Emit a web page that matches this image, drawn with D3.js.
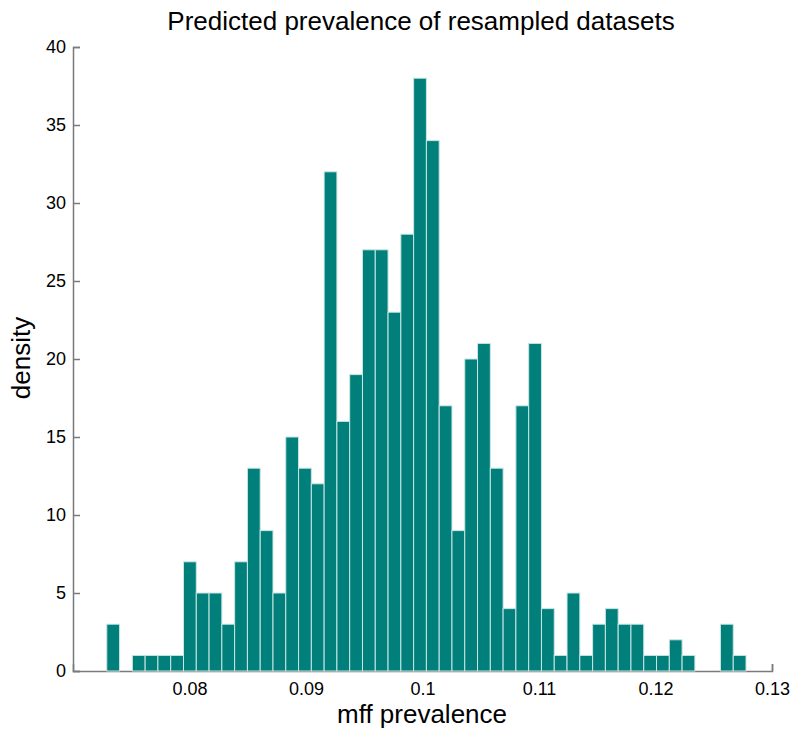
<!DOCTYPE html>
<html>
<head>
<meta charset="utf-8">
<script src="https://cdn.jsdelivr.net/npm/d3@7"></script>
<style>
  body { margin: 0; background: #fff; }
  svg text { font-family: "Liberation Sans", Arial, sans-serif; fill: #000; }
</style>
</head>
<body>
<svg id="chart"></svg>
<script>
// histogram: 50 bins between min and max of the resampled prevalence
const binRange = [0.0729, 0.12777];
const counts = [3, 0, 1, 1, 1, 1, 7, 5, 5, 3,
                7, 13, 9, 5, 15, 13, 12, 32, 16, 19,
                27, 27, 23, 28, 38, 34, 17, 9, 20, 21,
                13, 4, 17, 21, 4, 1, 5, 1, 3, 4,
                3, 3, 1, 1, 2, 1, 0, 0, 3, 1];
const xTicks = [0.08, 0.09, 0.1, 0.11, 0.12, 0.13];
const yTicks = [0, 5, 10, 15, 20, 25, 30, 35, 40];

const width = 793, height = 731;
const margin = { top: 47, right: 21, bottom: 60, left: 73 };

const svg = d3.select("#chart")
    .attr("width", width)
    .attr("height", height);

const x = d3.scaleLinear()
    .domain([0.07, 0.13])
    .range([margin.left, width - margin.right]);
const y = d3.scaleLinear()
    .domain([0, 40])
    .range([height - margin.bottom, margin.top]);

const binW = (binRange[1] - binRange[0]) / counts.length;
const bins = counts.map((c, i) => ({
    x0: binRange[0] + i * binW,
    x1: binRange[0] + (i + 1) * binW,
    count: c
}));

// axes (ticks pointing inward, MATLAB style)
const xAxis = svg.append("g")
    .attr("transform", `translate(0, ${y(0)})`)
    .call(d3.axisBottom(x).tickValues(xTicks).tickSize(-7).tickPadding(11)
        .tickFormat(d => d3.format("")(+d.toFixed(2))));
const yAxis = svg.append("g")
    .attr("transform", `translate(${x(0.07)}, 0)`)
    .call(d3.axisLeft(y).tickValues(yTicks).tickSize(-7).tickPadding(7));

[xAxis, yAxis].forEach(g => {
    g.select(".domain").attr("stroke", "#7a7a7a").attr("stroke-width", 1.5);
    g.selectAll(".tick line").attr("stroke", "#7a7a7a").attr("stroke-width", 1.5);
    g.selectAll("text").style("font-size", "18px").attr("fill", "#000");
});

// bars on top of the axis line
svg.append("g")
    .selectAll("rect")
    .data(bins.filter(d => d.count > 0))
    .join("rect")
    .attr("x", d => x(d.x0))
    .attr("width", d => x(d.x1) - x(d.x0))
    .attr("y", d => y(d.count))
    .attr("height", d => y(0) - y(d.count))
    .attr("fill", "#007f7b")
    .attr("stroke", "#c9e6e4")
    .attr("stroke-width", 1);

svg.append("text")
    .attr("x", 421)
    .attr("y", 30)
    .attr("text-anchor", "middle")
    .style("font-size", "26px")
    .text("Predicted prevalence of resampled datasets");

svg.append("text")
    .attr("x", 422)
    .attr("y", 723)
    .attr("text-anchor", "middle")
    .style("font-size", "26px")
    .text("mff prevalence");

svg.append("text")
    .attr("transform", "translate(30, 358) rotate(-90)")
    .attr("text-anchor", "middle")
    .style("font-size", "26px")
    .text("density");
</script>
</body>
</html>
